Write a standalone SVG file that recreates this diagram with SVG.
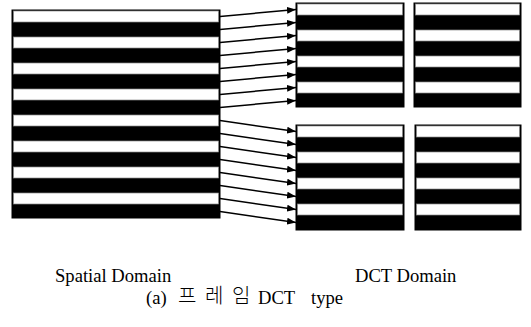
<svg xmlns="http://www.w3.org/2000/svg" width="531" height="327" viewBox="0 0 531 327">
<style>
.blk{fill:#000;stroke:#000;stroke-width:1}
.wht{fill:#fff;stroke:#8a8a8a;stroke-width:0.7}
.arr{stroke:#000;stroke-width:1.5;fill:none;marker-end:url(#ah)}
</style>
<defs>
<marker id="ah" markerUnits="userSpaceOnUse" markerWidth="9" markerHeight="7" refX="9" refY="3.5" orient="auto">
<path d="M0,0 L9,3.5 L0,7 Z" fill="#000"/>
</marker>
</defs>
<rect width="531" height="327" fill="#fff"/>
<g id="spatial-block">
<rect class="blk" x="12" y="10" width="208" height="208"/>
<rect class="wht" x="13.5" y="11" width="205" height="11"/>
<rect class="wht" x="13.5" y="37" width="205" height="11"/>
<rect class="wht" x="13.5" y="63" width="205" height="11"/>
<rect class="wht" x="13.5" y="89" width="205" height="11"/>
<rect class="wht" x="13.5" y="115" width="205" height="11"/>
<rect class="wht" x="13.5" y="141" width="205" height="11"/>
<rect class="wht" x="13.5" y="167" width="205" height="11"/>
<rect class="wht" x="13.5" y="193" width="205" height="11"/>
</g>
<g id="dct-top-left">
<rect class="blk" x="296" y="3" width="108" height="104"/>
<rect class="wht" x="297.5" y="4" width="105" height="11"/>
<rect class="wht" x="297.5" y="30" width="105" height="11"/>
<rect class="wht" x="297.5" y="56" width="105" height="11"/>
<rect class="wht" x="297.5" y="82" width="105" height="11"/>
</g>
<g id="dct-top-right">
<rect class="blk" x="414" y="3" width="107" height="104"/>
<rect class="wht" x="415.5" y="4" width="104" height="11"/>
<rect class="wht" x="415.5" y="30" width="104" height="11"/>
<rect class="wht" x="415.5" y="56" width="104" height="11"/>
<rect class="wht" x="415.5" y="82" width="104" height="11"/>
</g>
<g id="dct-bottom-left">
<rect class="blk" x="296" y="125" width="108" height="105"/>
<rect class="wht" x="297.5" y="126" width="105" height="11"/>
<rect class="wht" x="297.5" y="152" width="105" height="11"/>
<rect class="wht" x="297.5" y="178" width="105" height="11"/>
<rect class="wht" x="297.5" y="204" width="105" height="11"/>
</g>
<g id="dct-bottom-right">
<rect class="blk" x="415" y="125" width="106" height="105"/>
<rect class="wht" x="416.5" y="126" width="103" height="11"/>
<rect class="wht" x="416.5" y="152" width="103" height="11"/>
<rect class="wht" x="416.5" y="178" width="103" height="11"/>
<rect class="wht" x="416.5" y="204" width="103" height="11"/>
</g>
<g id="connectors">
<line class="arr" x1="220" y1="16.5" x2="296" y2="9.5"/>
<line class="arr" x1="220" y1="29.5" x2="296" y2="22.5"/>
<line class="arr" x1="220" y1="42.5" x2="296" y2="35.5"/>
<line class="arr" x1="220" y1="55.5" x2="296" y2="48.5"/>
<line class="arr" x1="220" y1="68.5" x2="296" y2="61.5"/>
<line class="arr" x1="220" y1="81.5" x2="296" y2="74.5"/>
<line class="arr" x1="220" y1="94.5" x2="296" y2="87.5"/>
<line class="arr" x1="220" y1="107.5" x2="296" y2="100.5"/>
<line class="arr" x1="220" y1="120.5" x2="296" y2="131.5"/>
<line class="arr" x1="220" y1="133.5" x2="296" y2="144.5"/>
<line class="arr" x1="220" y1="146.5" x2="296" y2="157.5"/>
<line class="arr" x1="220" y1="159.5" x2="296" y2="170.5"/>
<line class="arr" x1="220" y1="172.5" x2="296" y2="183.5"/>
<line class="arr" x1="220" y1="185.5" x2="296" y2="196.5"/>
<line class="arr" x1="220" y1="198.5" x2="296" y2="209.5"/>
<line class="arr" x1="220" y1="211.5" x2="296" y2="222.5"/>
</g>
<g id="labels" font-family="'Liberation Serif', 'Times New Roman', serif" font-size="18.6" fill="#000">
<text x="55" y="282">Spatial Domain</text>
<text x="355" y="282">DCT Domain</text>
<text x="146" y="304">(a)</text>
<text y="303" font-family="'Noto Sans CJK KR', sans-serif" font-size="20" font-weight="300"><tspan x="178">프</tspan><tspan x="205">레</tspan><tspan x="232">임</tspan></text>
<text x="258" y="304">DCT</text>
<text x="311" y="304">type</text>
</g>
</svg>
